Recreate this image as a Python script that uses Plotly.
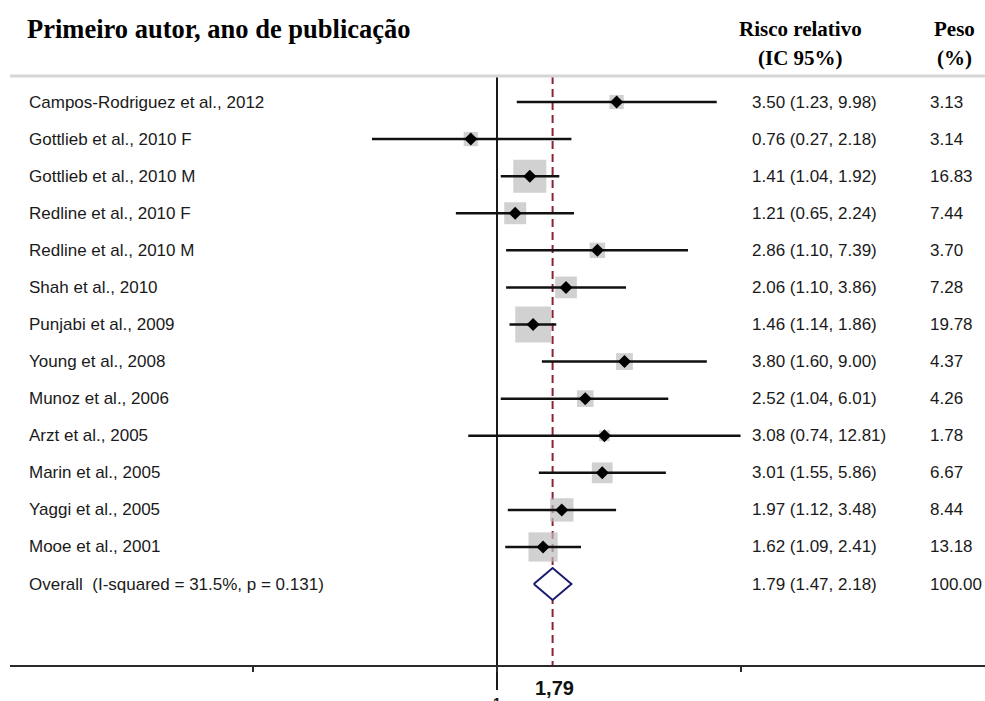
import math
import plotly.graph_objects as go

studies = [
    "Campos-Rodriguez et al., 2012",
    "Gottlieb et al., 2010 F",
    "Gottlieb et al., 2010 M",
    "Redline et al., 2010 F",
    "Redline et al., 2010 M",
    "Shah et al., 2010",
    "Punjabi et al., 2009",
    "Young et al., 2008",
    "Munoz et al., 2006",
    "Arzt et al., 2005",
    "Marin et al., 2005",
    "Yaggi et al., 2005",
    "Mooe et al., 2001",
]
rr = [3.50, 0.76, 1.41, 1.21, 2.86, 2.06, 1.46, 3.80, 2.52, 3.08, 3.01, 1.97, 1.62]
lo = [1.23, 0.27, 1.04, 0.65, 1.10, 1.10, 1.14, 1.60, 1.04, 0.74, 1.55, 1.12, 1.09]
hi = [9.98, 2.18, 1.92, 2.24, 7.39, 3.86, 1.86, 9.00, 6.01, 12.81, 5.86, 3.48, 2.41]
weight = [3.13, 3.14, 16.83, 7.44, 3.70, 7.28, 19.78, 4.37, 4.26, 1.78, 6.67, 8.44, 13.18]

overall_label = "Overall  (I-squared = 31.5%, p = 0.131)"
overall_rr = 1.79
overall_lo = 1.47
overall_hi = 2.18
overall_weight = 100.00

header_left = "Primeiro autor, ano de publicação"
header_rr = ["Risco relativo", "(IC 95%)"]
header_w = ["Peso", "(%)"]
overall_tick_label = "1,79"
null_label = "1"
tick_vals = [1 / max(hi), 1, max(hi)]

W, H = 985, 701
ROW0, ROWSTEP = 102, 37.08


def ypx(px):
    return (px - ROW0) / ROWSTEP


def paper_y(px):
    return 1 - px / H


rows = list(range(len(studies)))
overall_row = len(studies)

fig = go.Figure()

# confidence interval lines
cx, cy = [], []
for r, a, b in zip(rows, lo, hi):
    cx += [a, b, None]
    cy += [r, r, None]

# null line (solid) and overall dashed line
fig.add_trace(go.Scatter(x=[1, 1], y=[ypx(76), ypx(690)], mode="lines",
                         line=dict(color="#1a1a1a", width=2), hoverinfo="skip"))
fig.add_trace(go.Scatter(x=[overall_rr, overall_rr], y=[ypx(76), ypx(665)], mode="lines",
                         line=dict(color="#8b2335", width=2, dash="8px,5px"), hoverinfo="skip"))

# weight boxes
fig.add_trace(go.Scatter(x=rr, y=rows, mode="markers",
                         marker=dict(symbol="square", color="#bdbdbd",
                                     size=[8.05 * math.sqrt(w) for w in weight],
                                     line=dict(width=0)),
                         hoverinfo="skip"))
fig.add_trace(go.Scatter(x=cx, y=cy, mode="lines",
                         line=dict(color="#111111", width=2.5), hoverinfo="skip"))
fig.add_trace(go.Scatter(x=rr, y=rows, mode="markers",
                         marker=dict(symbol="diamond", color="#000000", size=10),
                         hoverinfo="skip"))

# overall diamond
dh = 0.43
fig.add_trace(go.Scatter(
    x=[overall_lo, overall_rr, overall_hi, overall_rr, overall_lo],
    y=[overall_row, overall_row - dh, overall_row, overall_row + dh, overall_row],
    mode="lines", fill="toself", fillcolor="white",
    line=dict(color="#1c1c6e", width=2), hoverinfo="skip"))

ann = []
txt_font = dict(family="Liberation Sans, Arial, sans-serif", size=17, color="#1a1a1a")
labels = studies + [overall_label]
rr_txt = [f"{a:.2f} ({b:.2f}, {c:.2f})" for a, b, c in zip(rr, lo, hi)] + \
         [f"{overall_rr:.2f} ({overall_lo:.2f}, {overall_hi:.2f})"]
w_txt = [f"{w:.2f}" for w in weight] + [f"{overall_weight:.2f}"]
for i, (l, t, w) in enumerate(zip(labels, rr_txt, w_txt)):
    ann.append(dict(x=27 / W, y=i, xref="paper", yref="y", text=l, showarrow=False,
                    xanchor="left", yanchor="middle", font=txt_font))
    ann.append(dict(x=750 / W, y=i, xref="paper", yref="y", text=t, showarrow=False,
                    xanchor="left", yanchor="middle", font=txt_font))
    ann.append(dict(x=928 / W, y=i, xref="paper", yref="y", text=w, showarrow=False,
                    xanchor="left", yanchor="middle", font=txt_font))

hdr_font = dict(family="Liberation Serif, Times New Roman, serif", size=21, color="#000000")
ann.append(dict(x=25 / W, y=paper_y(29), xref="paper", yref="paper", text=f"<b>{header_left}</b>",
                showarrow=False, xanchor="left", yanchor="middle",
                font=dict(family="Liberation Serif, Times New Roman, serif", size=26.5, color="#000000")))
for j, (a, b) in enumerate([(header_rr[0], header_w[0]), (header_rr[1], header_w[1])]):
    ypos = paper_y(29 + 29 * j)
    ann.append(dict(x=800 / W, y=ypos, xref="paper", yref="paper", text=f"<b>{a}</b>",
                    showarrow=False, xanchor="center", yanchor="middle", font=hdr_font))
    ann.append(dict(x=954 / W, y=ypos, xref="paper", yref="paper", text=f"<b>{b}</b>",
                    showarrow=False, xanchor="center", yanchor="middle", font=hdr_font))

ann.append(dict(x=math.log10(overall_rr), y=paper_y(688), xref="x", yref="paper",
                text=f"<b>{overall_tick_label}</b>", showarrow=False, xanchor="center",
                yanchor="middle", xshift=2, font=dict(family="Liberation Sans, Arial, sans-serif",
                                                      size=20, color="#111111")))
ann.append(dict(x=0, y=paper_y(693), xref="x", yref="paper",
                text=f"<b>{null_label}</b>", showarrow=False, xanchor="center",
                yanchor="top", font=dict(family="Liberation Sans, Arial, sans-serif",
                                         size=14, color="#111111")))

# grey header rule
fig.add_shape(type="line", xref="paper", yref="paper", x0=10 / W, x1=1,
              y0=paper_y(76), y1=paper_y(76), line=dict(color="#d6d6d6", width=3))

PX_PER_LN = 95.5
X0PX = 497
left_px = 10
xr = [((left_px - X0PX) / PX_PER_LN) / math.log(10), ((W - X0PX) / PX_PER_LN) / math.log(10)]

fig.update_layout(
    width=W, height=H,
    margin=dict(l=0, r=0, t=0, b=0),
    paper_bgcolor="white", plot_bgcolor="white",
    showlegend=False,
    annotations=ann,
    xaxis=dict(type="log", range=xr, domain=[left_px / W, 1], anchor="free", position=paper_y(666),
               showline=True, linecolor="#2a2a2a", linewidth=2, mirror=False,
               ticks="outside", ticklen=5, tickwidth=2, tickcolor="#2a2a2a",
               tickvals=tick_vals, showticklabels=False, showgrid=False, zeroline=False),
    yaxis=dict(range=[ypx(H), ypx(0)], visible=False, showgrid=False, zeroline=False),
)

fig.write_html("out.html")
